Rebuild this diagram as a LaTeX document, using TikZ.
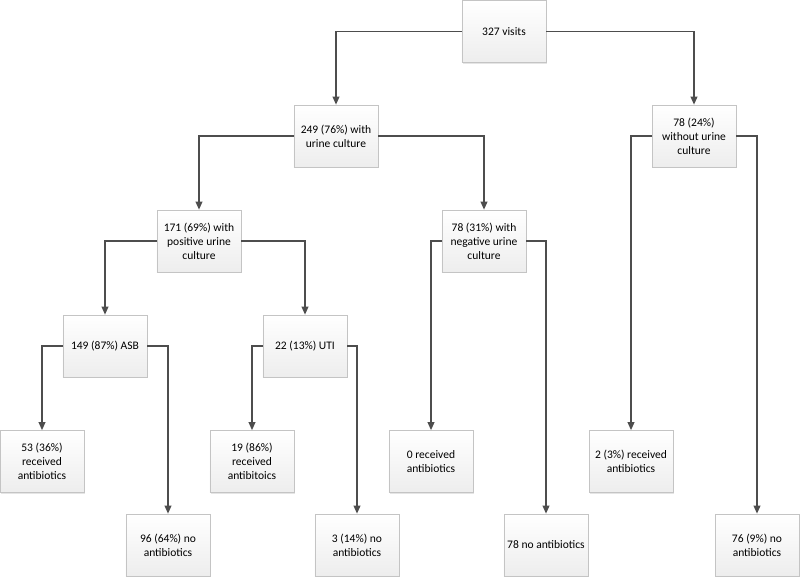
\documentclass[tikz,border=0pt]{standalone}
\usepackage{fontspec}
\setmainfont{Carlito}
\usepackage{xcolor}
\usepackage{tikz}
\usetikzlibrary{arrows.meta,shadows}
\definecolor{boxline}{HTML}{C4C4C4}
\definecolor{linkline}{HTML}{4D4D4D}

\begin{document}
\begin{tikzpicture}[
    x=0.025cm, y=-0.025cm,
    box/.style={draw=boxline, line width=0.5pt, top color=white, bottom color=black!7,
        minimum width=2.1cm, minimum height=1.55cm, inner sep=2pt, align=center,
        font=\fontsize{8.2}{10}\selectfont,
        drop shadow={shadow xshift=0.8pt, shadow yshift=-0.8pt, opacity=0.25, fill=black!40}},
    link/.style={draw=linkline, line width=0.9pt,
        -{Triangle[length=0.2cm, width=0.17cm]}}
]
\useasboundingbox (0,0) rectangle (800,578);

\node[box] (visits) at (504,31.5) {327 visits};
\node[box] (with) at (336,136) {249 (76\%) with\\urine culture};
\node[box] (without) at (694,136) {78 (24\%)\\without urine\\culture};
\node[box] (pos) at (199,241) {171 (69\%) with\\positive urine\\culture};
\node[box] (neg) at (484,241) {78 (31\%) with\\negative urine\\culture};
\node[box] (asb) at (105,346) {149 (87\%) ASB};
\node[box] (uti) at (305,346) {22 (13\%) UTI};
\node[box] (rec53) at (42,461.5) {53 (36\%)\\received\\antibiotics};
\node[box] (rec19) at (252,461.5) {19 (86\%)\\received\\antibitoics};
\node[box] (rec0) at (431,461.5) {0 received\\antibiotics};
\node[box] (rec2) at (631,461.5) {2 (3\%) received\\antibiotics};
\node[box] (no96) at (168,545) {96 (64\%) no\\antibiotics};
\node[box] (no3) at (357,545) {3 (14\%) no\\antibiotics};
\node[box] (no78) at (546,545) {78 no antibiotics};
\node[box] (no76) at (757,545) {76 (9\%) no\\antibiotics};

\draw[link] (visits.west) -| (with);
\draw[link] (visits.east) -| (without);
\draw[link] (with.west) -| (pos);
\draw[link] (with.east) -| (neg);
\draw[link] (without.west) -| (rec2);
\draw[link] (without.east) -| (no76);
\draw[link] (pos.west) -| (asb);
\draw[link] (pos.east) -| (uti);
\draw[link] (neg.west) -| (rec0);
\draw[link] (neg.east) -| (no78);
\draw[link] (asb.west) -| (rec53);
\draw[link] (asb.east) -| (no96);
\draw[link] (uti.west) -| (rec19);
\draw[link] (uti.east) -| (no3);
\end{tikzpicture}
\end{document}
